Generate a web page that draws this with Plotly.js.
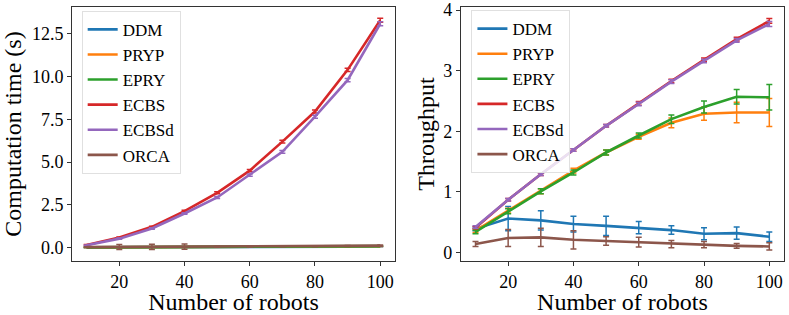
<!DOCTYPE html>
<html>
<head>
<meta charset="utf-8">
<script src="https://cdn.plot.ly/plotly-3.0.1.min.js"></script>
<style>html,body{margin:0;padding:0;background:#fff;}#chart{width:789px;height:315px;}</style>
</head>
<body>
<div id="chart"></div>
<script>
const robots = [10, 20, 30, 40, 50, 60, 70, 80, 90, 100];
const seriesNames = ["DDM", "PRYP", "EPRY", "ECBS", "ECBSd", "ORCA"];
const seriesColors = ["#1f77b4", "#ff7f0e", "#2ca02c", "#d62728", "#9467bd", "#8c564b"];

// Computation time (s)
const timeDDM   = [0.01, 0.01, 0.02, 0.02, 0.03, 0.03, 0.04, 0.04, 0.05, 0.06];
const timePRYP  = [0.01, 0.02, 0.02, 0.03, 0.03, 0.04, 0.05, 0.05, 0.06, 0.07];
const timeEPRY  = [0.01, 0.02, 0.03, 0.03, 0.04, 0.05, 0.05, 0.06, 0.07, 0.08];
const timeECBS  = [0.15, 0.59, 1.21, 2.13, 3.20, 4.50, 6.20, 7.96, 10.40, 13.30];
const timeECBSd = [0.13, 0.52, 1.11, 1.99, 2.93, 4.24, 5.60, 7.66, 9.80, 13.10];
const timeORCA  = [0.02, 0.03, 0.04, 0.05, 0.05, 0.06, 0.07, 0.08, 0.09, 0.11];
const timeErrDDM   = [0.01, 0.01, 0.01, 0.01, 0.01, 0.01, 0.01, 0.01, 0.01, 0.01];
const timeErrPRYP  = [0.01, 0.01, 0.01, 0.01, 0.01, 0.01, 0.01, 0.01, 0.01, 0.01];
const timeErrEPRY  = [0.01, 0.01, 0.01, 0.01, 0.01, 0.01, 0.01, 0.01, 0.01, 0.01];
const timeErrECBS  = [0.02, 0.03, 0.04, 0.05, 0.06, 0.07, 0.08, 0.09, 0.10, 0.12];
const timeErrECBSd = [0.02, 0.03, 0.04, 0.05, 0.06, 0.07, 0.08, 0.09, 0.10, 0.12];
const timeErrORCA  = [0.02, 0.15, 0.15, 0.15, 0.03, 0.03, 0.03, 0.03, 0.03, 0.03];

// Throughput
const thrDDM   = [0.39, 0.56, 0.53, 0.47, 0.44, 0.41, 0.37, 0.31, 0.32, 0.26];
const thrPRYP  = [0.36, 0.69, 1.01, 1.35, 1.65, 1.91, 2.14, 2.29, 2.31, 2.31];
const thrEPRY  = [0.34, 0.68, 1.01, 1.32, 1.65, 1.93, 2.20, 2.40, 2.57, 2.56];
const thrECBS  = [0.41, 0.87, 1.29, 1.69, 2.09, 2.46, 2.83, 3.18, 3.52, 3.82];
const thrECBSd = [0.42, 0.87, 1.29, 1.69, 2.09, 2.45, 2.82, 3.16, 3.50, 3.77];
const thrORCA  = [0.14, 0.24, 0.25, 0.21, 0.19, 0.17, 0.14, 0.13, 0.11, 0.10];
const thrErrDDM   = [0.03, 0.20, 0.16, 0.13, 0.16, 0.10, 0.07, 0.10, 0.10, 0.08];
const thrErrPRYP  = [0.03, 0.04, 0.04, 0.04, 0.04, 0.04, 0.08, 0.11, 0.17, 0.23];
const thrErrEPRY  = [0.03, 0.04, 0.04, 0.04, 0.04, 0.04, 0.07, 0.10, 0.12, 0.21];
const thrErrECBS  = [0.02, 0.02, 0.02, 0.02, 0.02, 0.03, 0.03, 0.03, 0.03, 0.04];
const thrErrECBSd = [0.02, 0.02, 0.02, 0.02, 0.02, 0.03, 0.03, 0.03, 0.03, 0.04];
const thrErrORCA  = [0.04, 0.14, 0.15, 0.15, 0.07, 0.08, 0.06, 0.05, 0.04, 0.06];

const xTicks = [20, 40, 60, 80, 100];
const yTicksTime = [0, 2.5, 5, 7.5, 10, 12.5];
const yTicksThr = [0, 1, 2, 3, 4];

const timeVals = [timeDDM, timePRYP, timeEPRY, timeECBS, timeECBSd, timeORCA];
const timeErrs = [timeErrDDM, timeErrPRYP, timeErrEPRY, timeErrECBS, timeErrECBSd, timeErrORCA];
const thrVals = [thrDDM, thrPRYP, thrEPRY, thrECBS, thrECBSd, thrORCA];
const thrErrs = [thrErrDDM, thrErrPRYP, thrErrEPRY, thrErrECBS, thrErrECBSd, thrErrORCA];

const FONT = "Liberation Serif";

function makeTrace(name, i, ys, errs, xa, ya, lg) {
  return {
    x: robots, y: ys, name: name, type: "scatter", mode: "lines",
    xaxis: xa, yaxis: ya, legend: lg,
    line: {color: seriesColors[i], width: 2.6},
    error_y: {type: "data", array: errs, visible: true, color: seriesColors[i], thickness: 1.5, width: 3}
  };
}

const traces = [];
seriesNames.forEach((name, i) => traces.push(makeTrace(name, i, timeVals[i], timeErrs[i], "x", "y", "legend")));
seriesNames.forEach((name, i) => traces.push(makeTrace(name, i, thrVals[i], thrErrs[i], "x2", "y2", "legend2")));

const axisCommon = {
  showline: true, mirror: true, linecolor: "#333", linewidth: 1,
  ticks: "outside", ticklen: 4, tickwidth: 1, tickcolor: "#333",
  showgrid: false, zeroline: false,
  tickfont: {family: FONT, size: 18, color: "#000"}
};

const legendCommon = {
  font: {family: FONT, size: 17, color: "#000"},
  bgcolor: "rgba(255,255,255,0.8)", bordercolor: "#e0e0e0", borderwidth: 1,
  xanchor: "left", yanchor: "top", itemwidth: 30, tracegroupgap: 0
};

const layout = {
  width: 789, height: 315,
  margin: {l: 72, r: 5, t: 7, b: 54},
  paper_bgcolor: "#fff", plot_bgcolor: "#fff",
  showlegend: true,
  xaxis: Object.assign({}, axisCommon, {
    domain: [0, 0.4535], range: [5.5, 104.5], tickvals: xTicks, anchor: "y",
    title: {text: "Number of robots", font: {family: FONT, size: 24, color: "#000"}, standoff: 0}
  }),
  yaxis: Object.assign({}, axisCommon, {
    domain: [0, 1], range: [-0.79, 14.08], tickvals: yTicksTime, tickformat: ".1f", anchor: "x",
    title: {text: "Computation time (s)", font: {family: FONT, size: 24, color: "#000"}, standoff: 6}
  }),
  xaxis2: Object.assign({}, axisCommon, {
    domain: [0.5461, 1], range: [5.5, 104.5], tickvals: xTicks, anchor: "y2",
    title: {text: "Number of robots", font: {family: FONT, size: 24, color: "#000"}, standoff: 0}
  }),
  yaxis2: Object.assign({}, axisCommon, {
    domain: [0, 1], range: [-0.14, 4.05], tickvals: yTicksThr, anchor: "x2",
    title: {text: "Throughput", font: {family: FONT, size: 24, color: "#000"}, standoff: 1}
  }),
  legend: Object.assign({}, legendCommon, {x: 0.0136, y: 0.985}),
  legend2: Object.assign({}, legendCommon, {x: 0.561, y: 0.988})
};

Plotly.newPlot("chart", traces, layout, {displayModeBar: false, staticPlot: true});
</script>
</body>
</html>
